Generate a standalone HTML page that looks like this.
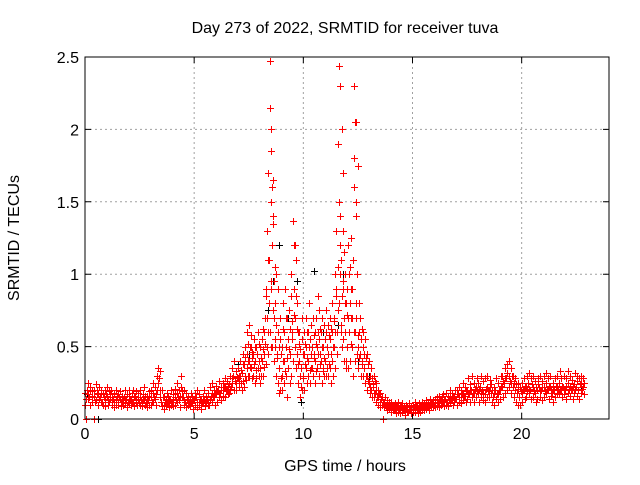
<!DOCTYPE html>
<html><head><meta charset="utf-8"><style>
html,body{margin:0;padding:0;background:#fff}
svg text{font-family:"Liberation Sans",sans-serif;font-size:16px;fill:#000}
</style></head><body>
<svg id="chart" width="640" height="480" xmlns="http://www.w3.org/2000/svg">
<text x="345" y="33" text-anchor="middle">Day 273 of 2022, SRMTID for receiver tuva</text>
<text x="345" y="471" text-anchor="middle">GPS time / hours</text>
<text transform="translate(19,238) rotate(-90)" text-anchor="middle">SRMTID / TECUs</text>
<g id="grid"></g>
<g id="ticks"></g>
<g id="marks"></g>
<rect x="85" y="57" width="524" height="362" fill="none" stroke="#000" stroke-width="1"/>
</svg>
<script>
const xTicks=[0,5,10,15,20];
const yTicks=[0,0.5,1,1.5,2,2.5];
const yTickLabels=["0","0.5","1","1.5","2","2.5"];
const t0=0, dt=0.1;
const redValues=[
[.18,.1,0,.14],[.2,.14,.25,.17],[.15,.22,.1,.19],[.19,.12,.16],[0,.2,.15,.12],[.24,.13,.17,.2],[.18,.1,.22,.14],[.15,.2,.12,.17],[.12,.18,.1,.15],[.2,.14,.09,.17],
[.16,.22,.1,.13],[.19,.12,.14,.17],[.2,.1,.15,.13],[.14,.18,.08,.12],[.13,.2,.1,.16],[.17,.1,.12,.15],[.14,.19,.09,.12],[.12,.16,.1,.14],[.15,.2,.11,.13],[.13,.17,.08,.12],
[.11,.16,.2,.14],[.14,.1,.18,.12],[.12,.2,.09,.15],[.16,.11,.13,.19],[.1,.18,.14,.12],[.15,.2,.1,.13],[.12,.09,.17,.14],[.14,.22,.1,.16],[.11,.16,.08,.13],[.13,.19,.1,.15],
[.15,.1,.2,.12],[.12,.18,.25,.15],[.14,.22,.1,.17],[.2,.3,.35,.25],[.28,.15,.33,.2],[.12,.2,.09,.15],[.1,.15,.07,.12],[.13,.09,.18,.11],[.11,.16,.08,.13],[.14,.2,.1,.12],
[.12,.17,.09,.14],[.15,.1,.21,.13],[.18,.12,.25,.15],[.13,.2,.08,.16],[.22,.3,.15,.19],[.15,.1,.2,.13],[.12,.18,.08,.14],[.1,.15,.13,.11],[.09,.14,.18,.12],[.11,.16,.07,.13],
[.13,.1,.18,.15],[.15,.08,.2,.12],[.12,.17,.1,.14],[.1,.14,.07,.12],[.16,.11,.2,.13],[.12,.09,.15,.11],[.14,.18,.1,.12],[.1,.22,.13,.16],[.18,.12,.25,.15],[.15,.2,.1,.17],
[.17,.23,.12,.19],[.2,.15,.26,.18],[.18,.22,.13,.2],[.16,.25,.2,.22],[.22,.15,.28,.19],[.2,.26,.17,.23],[.24,.18,.3,.21],[.22,.35,.28,.25],[.3,.2,.4,.26],[.25,.33,.2,.29],
[.28,.35,.22,.3,.25],[.3,.4,.25,.34,.2],[.32,.45,.26,.38,.22],[.38,.5,.3,.43,.27],[.45,.35,.6,.4,.3,.52],[.65,.4,.3,.5,.36,.58],[.5,.35,.42,.28,.46],[.3,.45,.55,.38,.25,.5],[.4,.28,.5,.34,.45],[.45,.6,.35,.52,.3,.4],
[.35,.5,.25,.42,.3,.55],[.55,.4,.3,.48,.62,.36],[.6,.45,.7,.52,.38,.85],[.9,.5,1.3,.7,1.1,.6,.45],[1.7,1.1,.8,2.47,.6,2.15,1.85,.5,.95],[1.5,2.0,.9,1.2,.5,1.6,.75,1.4],[1.65,1.35,.7,.4,.95,1.05,.55],[.8,.5,1.0,.3,.65,.42],[.45,.25,.6,.9,.35,.5,.18],[.35,.55,.2,.7,.45,.28],
[.3,.5,.2,.8,.4,.62],[.4,.6,.25,.9,.33,.5,.7],[.5,.3,.7,.15,.42,.55],[.35,.55,.75,.48,.25,.62],[.45,.3,.85,1.0,.55,.68],[.6,1.37,.4,.9,1.2,.72,.5],[1.2,.7,.5,1.1,.85,.35,.62],[.8,.45,.6,.25,.38,.52],[.4,.6,.15,.3,.48,.22],[.35,.55,.7,.2,.45,.28],
[.3,.45,.6,.2,.38,.52],[.5,.35,.7,.25,.42,.6],[.4,.6,.3,.8,.5,.34],[.55,.25,.45,.65,.35,.5],[.35,.5,.7,.3,.42,.58],[.45,.6,.25,.4,.52,.33],[.7,.5,.35,.85,.6,.45],[.55,.3,.75,.45,.62,.38],[.4,.6,.25,.5,.7,.33],[.5,.35,.65,.3,.42,.55],
[.4,.6,.3,.75,.5,.35],[.5,.3,.65,.45,.58,.38],[.35,.55,.7,.25,.45,.62],[.6,.4,.8,.3,.5,.68],[.5,.7,.35,1.0,.6,.85],[.9,1.3,.6,.45,.75,1.05],[1.9,2.44,1.5,.8,2.3,1.2,1.0,.65],[1.4,1.1,.6,2.0,.5,.85,1.7,.95],[.9,.55,1.3,.7,.4,1.15,.8],[.6,1.0,.4,.8,.35,.72,.5],
[.5,.9,1.2,.35,.7,.6,1.0],[.6,1.05,.4,.8,.52,.9,.7],[1.25,.7,.5,.9,.3,1.1,.6],[1.6,2.3,1.8,.6,.4,2.05,1.4,.8],[2.05,1.5,.7,.45,1.0,1.75,.58],[.5,.35,.8,.6,.42,.7],[.45,.7,.3,.55,.38,.62],[.4,.6,.3,.5,.35,.45],[.35,.55,.25,.3,.42],[.3,.45,.2,.26,.38],
[.25,.4,.18,.3,.22],[.2,.35,.15,.28,.24],[.22,.3,.15,.18,.26],[.18,.25,.12,.2,.15],[.15,.2,.1,.17],[.18,.12,.08,.14],[.1,.15,0,.12],[.12,.08,.15,.1],[.09,.13,.06,.1],[.1,.07,.12,.09],
[.08,.12,.05,.1],[.1,.06,.09,.07],[.07,.11,.04,.09],[.09,.05,.12,.07],[.06,.1,.04,.08],[.08,.05,.11,.07],[.06,.09,.03,.07],[.07,.1,.05,.08],[.05,.08,.11,.06],[.06,.09,.04,.07],
[.07,.1,.05,.08],[.08,.12,.05,.1],[.06,.09,.04,.07],[.07,.11,.05,.09],[.09,.06,.12,.08],[.08,.11,.06,.1],[.1,.07,.13,.09],[.09,.12,.06,.1],[.1,.14,.08,.11],[.11,.08,.13,.1],
[.1,.14,.08,.12],[.12,.09,.15,.11],[.11,.16,.08,.13],[.13,.1,.16,.12],[.12,.17,.09,.14],[.14,.1,.18,.12],[.12,.16,.09,.14],[.15,.11,.2,.13],[.13,.18,.1,.15],[.16,.12,.2,.14],
[.14,.2,.1,.17],[.17,.12,.22,.15],[.15,.2,.11,.18],[.18,.13,.25,.16],[.16,.22,.12,.19],[.2,.14,.28,.17],[.17,.24,.12,.2],[.2,.15,.3,.18],[.18,.25,.12,.21],[.22,.15,.28,.19],
[.18,.25,.12,.21],[.22,.15,.3,.18],[.2,.26,.13,.17],[.17,.28,.12,.21],[.22,.3,.15,.19],[.2,.15,.27,.22],[.18,.24,.12,.2],[.15,.22,.1,.18],[.2,.14,.28,.17],[.17,.25,.12,.2],
[.2,.14,.3,.23],[.22,.3,.15,.26],[.25,.18,.35,.28],[.28,.2,.38,.32],[.3,.22,.4,.26],[.25,.35,.18,.3],[.22,.3,.15,.25],[.2,.28,.12,.24],[.18,.25,.1,.21],[.15,.22,.1,.19],
[.18,.12,.25,.21],[.2,.28,.14,.23],[.22,.15,.3,.19],[.25,.18,.32,.21],[.2,.28,.14,.24],[.22,.3,.15,.19],[.18,.26,.12,.22],[.2,.14,.28,.24],[.22,.3,.15,.19],[.2,.26,.13,.22],
[.22,.15,.3,.19],[.25,.18,.32,.21],[.2,.28,.14,.23],[.22,.3,.16,.2],[.18,.25,.12,.21],[.2,.28,.15,.23],[.22,.17,.3,.2],[.25,.18,.33,.21],[.2,.28,.15,.23],[.22,.3,.17,.2],
[.2,.28,.14,.23],[.25,.18,.33,.21],[.22,.3,.16,.2],[.2,.27,.14,.23],[.24,.18,.32,.21],[.22,.3,.16,.26],[.2,.28,.14,.24],[.25,.18,.3,.21],[.22,.28,.17,.25]
];
const blackTimes=[0.1,0.6,7.0,7.5,8.4,8.6,8.9,9.3,9.7,9.9,10.5,10.9,11.6,11.8,12.2,12.5,13.0,19.6,22.7];
const blackValues=[0.17,0.0,0.38,0.45,0.75,0.95,1.2,0.7,0.95,0.12,1.02,0.6,0.65,1.0,0.9,0.4,0.3,0.3,0.22];

const X0=85,X1=609,Y0=419,Y1=57,XMAX=24,YMAX=2.5;
const xs=v=>X0+(X1-X0)*v/XMAX, ys=v=>Y0-(Y0-Y1)*v/YMAX;
const NS='http://www.w3.org/2000/svg';
const grid=document.getElementById('grid'),ticks=document.getElementById('ticks'),marks=document.getElementById('marks');
function mk(tag,attrs,parent){const e=document.createElementNS(NS,tag);for(const k in attrs)e.setAttribute(k,attrs[k]);parent.appendChild(e);return e;}
xTicks.forEach(t=>{
  const x=xs(t);
  if(t>0){const g=mk('line',{x1:x,x2:x,y1:Y1,y2:Y0,stroke:'#a0a0a0','stroke-dasharray':'2,3'},grid);
  
  }
  const l=mk('path',{d:`M${x},${Y0}v-6M${x},${Y1}v6`,stroke:'#000'},ticks);
  
  
  const tx=mk('text',{x:x,y:Y0+20,'text-anchor':'middle'},ticks);tx.textContent=String(t);
  
  
});
yTicks.forEach((v,i)=>{
  const y=ys(v);
  if(v>0&&v<YMAX){const g=mk('line',{x1:X0,x2:X1,y1:y,y2:y,stroke:'#a0a0a0','stroke-dasharray':'2,3'},grid);
  
  }
  const l=mk('path',{d:`M${X0},${y}h6M${X1},${y}h-6`,stroke:'#000'},ticks);
  
  
  const tx=mk('text',{x:X0-6,y:y+6,'text-anchor':'end'},ticks);tx.textContent=yTickLabels[i];
  
  
});
function plus(t,v,color,name){
  const x=Math.round(xs(t))+0.5,y=Math.round(ys(v))+0.5;
  const p=mk('path',{d:`M${x-3.5},${y}h7M${x},${y-3.5}v7`,stroke:color,'stroke-width':1},marks);
  
  
}
blackTimes.forEach((t,i)=>plus(t,blackValues[i],'#000','black-point'));
redValues.forEach((arr,i)=>arr.forEach((v,k)=>plus(t0+i*dt+k*0.017,v,'#ff0000','red-point')));
</script>
</body></html>
